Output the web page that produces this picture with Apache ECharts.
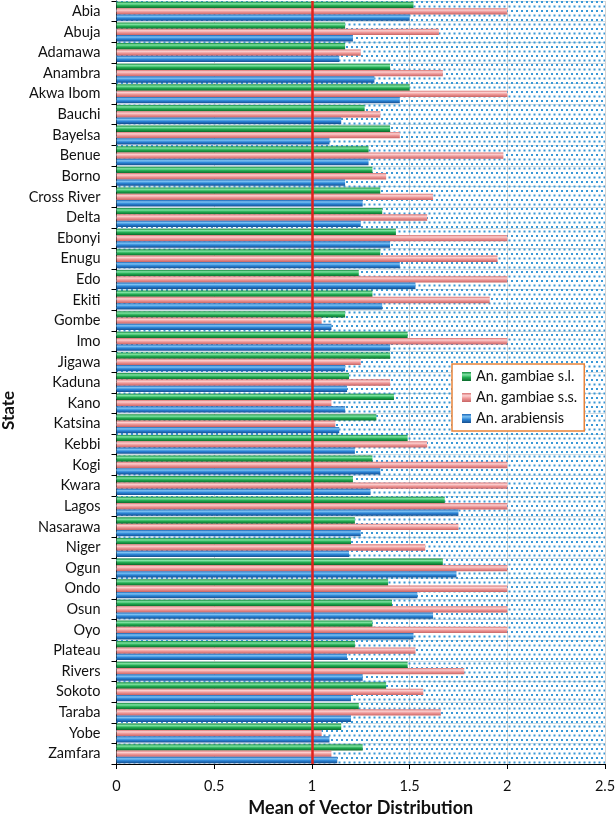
<!DOCTYPE html>
<html>
<head>
<meta charset="utf-8">
<script src="https://cdn.jsdelivr.net/npm/echarts@6/dist/echarts.min.js"></script>
<style>
html,body{margin:0;padding:0;background:#fff;}
#chart{width:615px;height:819px;}
</style>
</head>
<body>
<div id="chart"></div>
<script>
const states = ["Abia","Abuja","Adamawa","Anambra","Akwa Ibom","Bauchi","Bayelsa","Benue","Borno","Cross River","Delta","Ebonyi","Enugu","Edo","Ekiti","Gombe","Imo","Jigawa","Kaduna","Kano","Katsina","Kebbi","Kogi","Kwara","Lagos","Nasarawa","Niger","Ogun","Ondo","Osun","Oyo","Plateau","Rivers","Sokoto","Taraba","Yobe","Zamfara"];
const gambiaeSL = [1.52,1.17,1.17,1.40,1.50,1.27,1.40,1.29,1.31,1.35,1.36,1.43,1.35,1.24,1.31,1.17,1.49,1.40,1.19,1.42,1.33,1.49,1.31,1.21,1.68,1.22,1.20,1.67,1.39,1.41,1.31,1.22,1.49,1.38,1.24,1.15,1.26];
const gambiaeSS = [2.0,1.65,1.25,1.67,2.0,1.35,1.45,1.98,1.38,1.62,1.59,2.0,1.95,2.0,1.91,1.05,2.0,1.25,1.40,1.10,1.12,1.59,2.0,2.0,2.0,1.75,1.58,2.0,2.0,2.0,2.0,1.53,1.78,1.57,1.66,1.05,1.10];
const arabiensis = [1.50,1.21,1.14,1.32,1.45,1.15,1.09,1.29,1.17,1.26,1.25,1.40,1.45,1.53,1.36,1.10,1.40,1.17,1.18,1.17,1.14,1.22,1.35,1.30,1.75,1.25,1.19,1.74,1.54,1.62,1.52,1.18,1.26,1.20,1.20,1.09,1.13];
const seriesNames = ["An. gambiae s.l.","An. gambiae s.s.","An. arabiensis"];
const xTicks = [0,0.5,1,1.5,2,2.5];
const threshold = 1;

const FONT = 'Lato, "Open Sans", sans-serif';
const G = echarts.graphic.LinearGradient;
function grad(c){ return new G(0,0,0,1,[
  {offset:0,color:c[0]},{offset:0.3,color:c[1]},{offset:0.6,color:c[2]},{offset:1,color:c[3]}]); }
const green = grad(['#138a3c','#7fe3a2','#22ad52','#0c6a2c']);
const pink  = grad(['#d87272','#fcd0d0','#ee9696','#c86464']);
const blue  = grad(['#1a66b8','#7cc2f4','#2a84d6','#164f90']);

// dotted pattern
const pc = document.createElement('canvas');
pc.width = 5; pc.height = 9;
const pctx = pc.getContext('2d');
pctx.fillStyle = '#3a98d6';
pctx.fillRect(1,1,2,2);
pctx.fillRect(3.5,5.5,2,2);
pctx.fillRect(-1.5,5.5,2,2);

const chart = echarts.init(document.getElementById('chart'), null, {renderer:'canvas'});
chart.setOption({
  animation:false,
  backgroundColor:'#fff',
  textStyle:{fontFamily:FONT},
  grid:{left:116.5, right:10, top:1, bottom:55, containLabel:false, outerBoundsMode:'none'},
  legend:{
    orient:'vertical', left:452, top:364,
    data:seriesNames, icon:'rect', itemWidth:9, itemHeight:9, itemGap:6,
    padding:[5,7,5,10],
    backgroundColor:'#fff', borderColor:'#e8843a', borderWidth:1.5,
    textStyle:{fontFamily:FONT, fontSize:14.5, color:'#111'}
  },
  xAxis:{
    type:'value', min:xTicks[0], max:xTicks[xTicks.length-1], interval:0.5,
    axisLine:{show:true, lineStyle:{color:'#000', width:1}},
    axisTick:{show:true, length:5, lineStyle:{color:'#000'}},
    axisLabel:{fontFamily:FONT, fontSize:14.5, color:'#111', margin:15},
    splitLine:{show:true, lineStyle:{color:'#d4d4d4', width:1}},
    name:'Mean of Vector Distribution', nameLocation:'middle', nameGap:35,
    nameTextStyle:{fontFamily:FONT, fontSize:18, fontWeight:'bold', color:'#111'}
  },
  yAxis:{
    type:'category', data:states, inverse:true,
    axisLine:{show:true, lineStyle:{color:'#000', width:1}},
    axisTick:{show:true, length:5, lineStyle:{color:'#000'}},
    axisLabel:{fontFamily:FONT, fontSize:14.5, color:'#111', margin:16},
    splitLine:{show:true, lineStyle:{color:'#d0dde4', width:1}},
    name:'State', nameLocation:'middle', nameGap:99, nameRotate:90,
    nameTextStyle:{fontFamily:FONT, fontSize:17, fontWeight:'bold', color:'#111', padding:[0,56,0,0]}
  },
  series:[
    {name:seriesNames[0], type:'bar', data:gambiaeSL, barGap:'0%', barCategoryGap:'8%',
     itemStyle:{color:green},
     markArea:{silent:true, itemStyle:{color:{image:pc, repeat:'repeat'}},
       data:[[{xAxis:xTicks[0]},{xAxis:xTicks[xTicks.length-1]}]]}},
    {name:seriesNames[1], type:'bar', data:gambiaeSS, barGap:'0%', barCategoryGap:'8%',
     itemStyle:{color:pink}},
    {name:seriesNames[2], type:'bar', data:arabiensis, barGap:'0%', barCategoryGap:'8%',
     itemStyle:{color:blue},
     markLine:{silent:true, symbol:'none', label:{show:false},
       lineStyle:{color:'#e3211c', width:2.5, type:'solid'},
       data:[{xAxis:threshold}]}}
  ]
});
</script>
</body>
</html>
